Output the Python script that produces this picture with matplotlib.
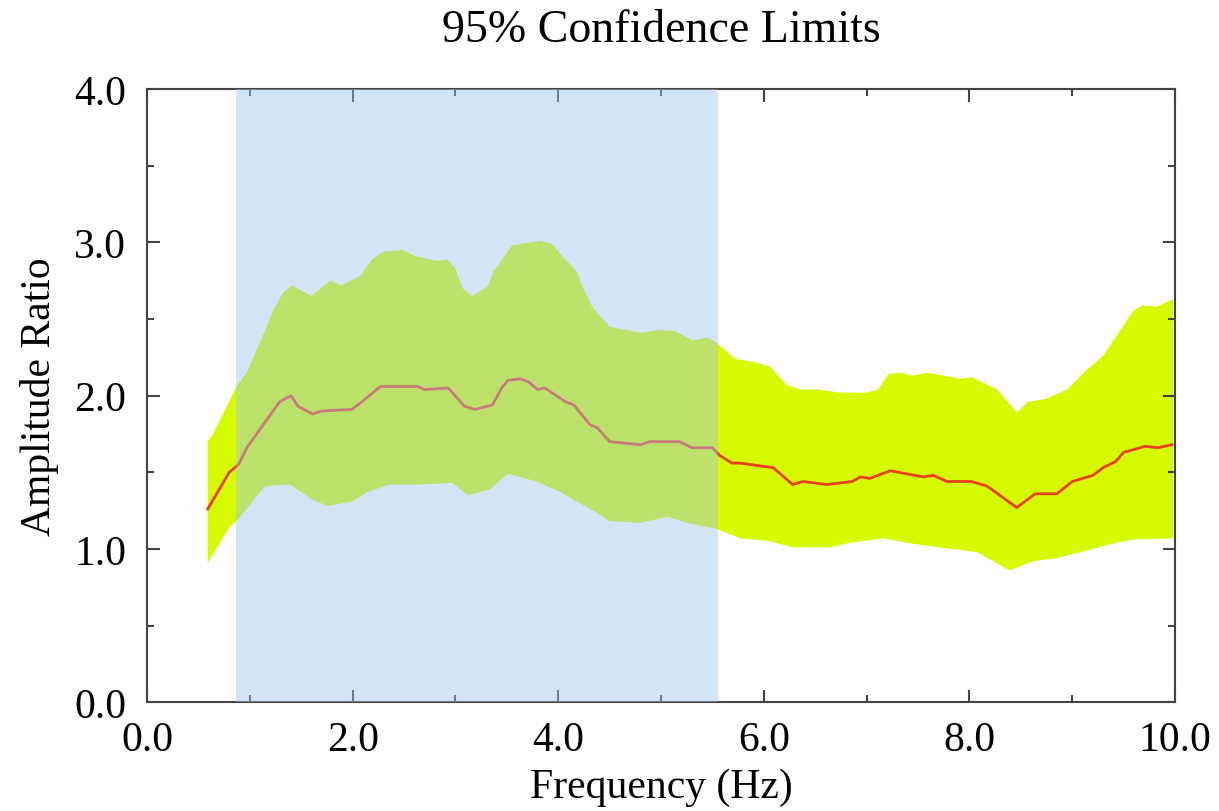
import matplotlib
matplotlib.use("Agg")
import matplotlib.pyplot as plt
from matplotlib.ticker import MultipleLocator, FormatStrFormatter

plt.rcParams["font.family"] = ["Liberation Serif", "DejaVu Serif"]

# mean amplitude ratio
freq_mean = [0.59, 0.80, 0.89, 0.97, 1.29, 1.40, 1.47, 1.61, 1.70, 1.99, 2.09, 2.27, 2.63, 2.70,
             2.93, 3.09, 3.19, 3.36, 3.45, 3.51, 3.63, 3.71, 3.80, 3.87, 4.07, 4.15, 4.31, 4.38,
             4.50, 4.80, 4.89, 5.18, 5.30, 5.50, 5.57, 5.69, 5.77, 6.09, 6.28, 6.38, 6.61, 6.86,
             6.94, 7.03, 7.23, 7.39, 7.55, 7.65, 7.78, 8.02, 8.17, 8.46, 8.64, 8.85, 9.00, 9.20,
             9.30, 9.42, 9.50, 9.71, 9.83, 9.97]
amp_mean = [1.26, 1.50, 1.55, 1.66, 1.96, 2.00, 1.93, 1.88, 1.90, 1.91, 1.96, 2.06, 2.06, 2.04,
            2.05, 1.93, 1.91, 1.94, 2.05, 2.10, 2.11, 2.09, 2.04, 2.05, 1.96, 1.94, 1.81, 1.79,
            1.70, 1.68, 1.70, 1.70, 1.66, 1.66, 1.61, 1.56, 1.56, 1.53, 1.42, 1.44, 1.42, 1.44,
            1.47, 1.46, 1.51, 1.49, 1.47, 1.48, 1.44, 1.44, 1.41, 1.27, 1.36, 1.36, 1.44, 1.48,
            1.53, 1.57, 1.63, 1.67, 1.66, 1.68]

# upper 95% limit
freq_upper = [0.59, 0.66, 0.87, 0.97, 1.10, 1.23, 1.32, 1.41, 1.60, 1.78, 1.89, 2.07, 2.19, 2.30,
              2.49, 2.61, 2.82, 2.92, 3.00, 3.07, 3.16, 3.31, 3.37, 3.55, 3.82, 3.94, 4.04, 4.18,
              4.23, 4.33, 4.50, 4.80, 4.99, 5.14, 5.31, 5.45, 5.55, 5.72, 5.90, 6.06, 6.22, 6.35,
              6.52, 6.74, 7.00, 7.11, 7.21, 7.34, 7.44, 7.59, 7.91, 8.02, 8.27, 8.37, 8.46, 8.57,
              8.75, 8.95, 9.11, 9.30, 9.47, 9.59, 9.68, 9.82, 9.98]
amp_upper = [1.70, 1.77, 2.06, 2.15, 2.35, 2.56, 2.67, 2.72, 2.65, 2.75, 2.72, 2.78, 2.89, 2.94,
             2.95, 2.91, 2.88, 2.89, 2.83, 2.70, 2.65, 2.71, 2.81, 2.98, 3.01, 2.99, 2.91, 2.81,
             2.72, 2.58, 2.45, 2.41, 2.43, 2.42, 2.36, 2.38, 2.34, 2.24, 2.22, 2.19, 2.07, 2.04,
             2.04, 2.02, 2.02, 2.04, 2.14, 2.15, 2.13, 2.15, 2.11, 2.12, 2.04, 1.96, 1.89, 1.96,
             1.98, 2.04, 2.15, 2.26, 2.43, 2.55, 2.59, 2.58, 2.63]

# lower 95% limit
freq_lower = [0.59, 0.81, 0.87, 1.15, 1.39, 1.61, 1.76, 2.00, 2.14, 2.36, 2.63, 2.97, 3.12, 3.34,
              3.51, 3.79, 4.02, 4.15, 4.34, 4.50, 4.80, 5.06, 5.25, 5.54, 5.77, 6.06, 6.28, 6.64,
              6.84, 7.16, 7.39, 7.71, 8.07, 8.39, 8.62, 8.85, 9.14, 9.37, 9.56, 9.98]
amp_lower = [0.91, 1.15, 1.18, 1.41, 1.42, 1.32, 1.28, 1.31, 1.37, 1.42, 1.42, 1.43, 1.35, 1.39,
             1.49, 1.44, 1.37, 1.32, 1.25, 1.18, 1.17, 1.21, 1.17, 1.13, 1.07, 1.05, 1.01, 1.01,
             1.04, 1.07, 1.04, 1.01, 0.98, 0.86, 0.92, 0.94, 0.99, 1.03, 1.06, 1.07]

band_start = 0.87
band_end = 5.55

fig = plt.figure(figsize=(12.19, 8.12), dpi=100)
ax = fig.add_axes([0.1206, 0.134, 0.8434, 0.755])

ax.fill(freq_upper + freq_lower[::-1], amp_upper + amp_lower[::-1],
        color="#d6fa00", linewidth=0, zorder=1)
ax.plot(freq_mean, amp_mean, color="#e8401a", linewidth=2, zorder=2)
ax.axvspan(band_start, band_end, color="#a0c6f1", alpha=0.45, linewidth=0, zorder=3)

ax.set_xlim(0, 10)
ax.set_ylim(0, 4)
ax.xaxis.set_major_locator(MultipleLocator(2))
ax.xaxis.set_minor_locator(MultipleLocator(1))
ax.yaxis.set_major_locator(MultipleLocator(1))
ax.yaxis.set_minor_locator(MultipleLocator(0.5))
ax.xaxis.set_major_formatter(FormatStrFormatter("%.1f"))
ax.yaxis.set_major_formatter(FormatStrFormatter("%.1f"))
ax.tick_params(which="both", direction="in", top=True, right=True, color="#444444",
               width=1.5, labelsize=30, labelcolor="black")
ax.tick_params(which="major", length=9)
ax.tick_params(which="minor", length=5)
ax.tick_params(axis="x", pad=13)
ax.tick_params(axis="y", pad=15)
for s in ax.spines.values():
    s.set_color("#444444")
    s.set_linewidth(1.5)

ax.set_xlabel("Frequency (Hz)", fontsize=30, labelpad=6)
ax.set_ylabel("Amplitude Ratio", fontsize=30, labelpad=11)
ax.set_title("95% Confidence Limits", fontsize=33, pad=35)

fig.savefig("out.png", dpi=100)
